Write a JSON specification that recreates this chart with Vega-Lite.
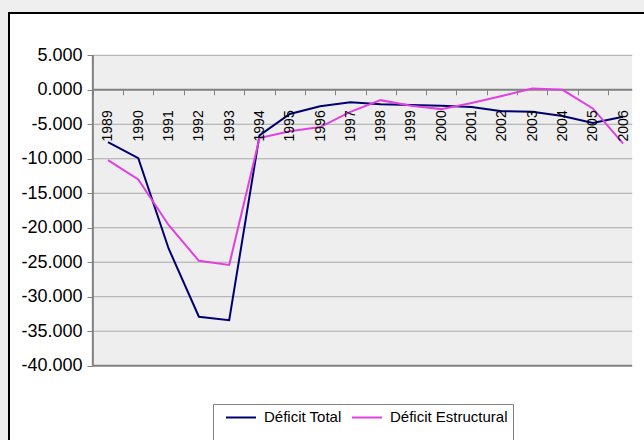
{
  "$schema": "https://vega.github.io/schema/vega-lite/v6.json",
  "width": 635,
  "height": 427,
  "autosize": {"type": "none"},
  "padding": {"left": 9, "top": 13, "right": 0, "bottom": 0},
  "background": "#efefef",
  "config": {
    "view": {"fill": "#ffffff", "stroke": "#000000", "strokeWidth": 2, "strokeDash": [635, 1062, 427]},
    "locale": {"number": {"decimal": ".", "thousands": ",", "grouping": [3], "currency": ["", ""], "minus": "-"}},
    "font": "Liberation Sans",
    "axis": {"labelOverlap": false, "labelFlush": false}
  },
  "layer": [
    {
      "data": {"values": [{}]},
      "mark": {"type": "rect", "color": "#eeeeee"},
      "encoding": {
        "x": {"datum": 1988.5, "type": "quantitative", "title": null},
        "x2": {"datum": 2006.3},
        "y": {"datum": 5, "type": "quantitative", "title": null},
        "y2": {"datum": -40}
      }
    },
    {
      "data": {"values": [{"v": -35}, {"v": -30}, {"v": -25}, {"v": -20}, {"v": -15}, {"v": -10}, {"v": -5}, {"v": 5}]},
      "mark": {"type": "rule", "color": "#a8a8a8", "strokeWidth": 1},
      "encoding": {
        "y": {"field": "v", "type": "quantitative", "title": null},
        "x": {"datum": 1988.5, "type": "quantitative", "title": null},
        "x2": {"datum": 2006.3}
      }
    },
    {
      "data": {"values": [{"v": 0}, {"v": -40}]},
      "mark": {"type": "rule", "color": "#808080", "strokeWidth": 2},
      "encoding": {
        "y": {"field": "v", "type": "quantitative", "title": null},
        "x": {"datum": 1988.5, "type": "quantitative", "title": null},
        "x2": {"datum": 2006.3}
      }
    },
    {
      "data": {"values": [{}]},
      "mark": {"type": "rule", "color": "#808080", "strokeWidth": 2},
      "encoding": {
        "x": {"datum": 1988.5, "type": "quantitative", "title": null},
        "y": {"datum": 5, "type": "quantitative", "title": null},
        "y2": {"datum": -40}
      }
    },
    {
      "data": {"values": [
        {"year": 1989, "serie": "Déficit Total", "value": -7.6},
        {"year": 1990, "serie": "Déficit Total", "value": -9.9},
        {"year": 1991, "serie": "Déficit Total", "value": -23.0},
        {"year": 1992, "serie": "Déficit Total", "value": -32.9},
        {"year": 1993, "serie": "Déficit Total", "value": -33.4},
        {"year": 1994, "serie": "Déficit Total", "value": -6.6},
        {"year": 1995, "serie": "Déficit Total", "value": -3.5},
        {"year": 1996, "serie": "Déficit Total", "value": -2.4},
        {"year": 1997, "serie": "Déficit Total", "value": -1.8},
        {"year": 1998, "serie": "Déficit Total", "value": -2.1},
        {"year": 1999, "serie": "Déficit Total", "value": -2.2},
        {"year": 2000, "serie": "Déficit Total", "value": -2.3},
        {"year": 2001, "serie": "Déficit Total", "value": -2.5},
        {"year": 2002, "serie": "Déficit Total", "value": -3.1},
        {"year": 2003, "serie": "Déficit Total", "value": -3.2},
        {"year": 2004, "serie": "Déficit Total", "value": -3.8},
        {"year": 2005, "serie": "Déficit Total", "value": -4.8},
        {"year": 2006, "serie": "Déficit Total", "value": -3.9},
        {"year": 1989, "serie": "Déficit Estructural", "value": -10.2},
        {"year": 1990, "serie": "Déficit Estructural", "value": -13.0},
        {"year": 1991, "serie": "Déficit Estructural", "value": -19.6},
        {"year": 1992, "serie": "Déficit Estructural", "value": -24.8},
        {"year": 1993, "serie": "Déficit Estructural", "value": -25.4},
        {"year": 1994, "serie": "Déficit Estructural", "value": -7.0},
        {"year": 1995, "serie": "Déficit Estructural", "value": -6.0},
        {"year": 1996, "serie": "Déficit Estructural", "value": -5.4},
        {"year": 1997, "serie": "Déficit Estructural", "value": -3.2},
        {"year": 1998, "serie": "Déficit Estructural", "value": -1.5},
        {"year": 1999, "serie": "Déficit Estructural", "value": -2.3},
        {"year": 2000, "serie": "Déficit Estructural", "value": -2.8},
        {"year": 2001, "serie": "Déficit Estructural", "value": -1.9},
        {"year": 2002, "serie": "Déficit Estructural", "value": -0.9},
        {"year": 2003, "serie": "Déficit Estructural", "value": 0.2},
        {"year": 2004, "serie": "Déficit Estructural", "value": 0.0},
        {"year": 2005, "serie": "Déficit Estructural", "value": -2.7},
        {"year": 2006, "serie": "Déficit Estructural", "value": -7.8}
      ]},
      "mark": {"type": "line", "strokeWidth": 2},
      "encoding": {
        "x": {
          "field": "year", "type": "quantitative", "title": null,
          "scale": {"domain": [1985.733, 2006.69], "nice": false, "zero": false},
          "axis": {
            "values": [1989, 1990, 1991, 1992, 1993, 1994, 1995, 1996, 1997, 1998, 1999, 2000, 2001, 2002, 2003, 2004, 2005, 2006],
            "tickCount": 40,
            "format": "d", "orient": "bottom", "offset": -350.2, "domain": false, "grid": false,
            "tickSize": 5, "tickColor": "#808080", "tickWidth": 1, "tickOffset": -15.15, "labelOffset": 15.15,
            "labelAngle": -90, "labelAlign": "right", "labelBaseline": "middle", "labelPadding": 15,
            "labelFontSize": 14, "labelColor": "#000000", "labelFlush": false, "labelOverlap": false, "zindex": 1
          }
        },
        "y": {
          "field": "value", "type": "quantitative", "title": null,
          "scale": {"domain": [-50.77, 11.134], "nice": false, "zero": false},
          "axis": {
            "values": [-40, -35, -30, -25, -20, -15, -10, -5, 0, 5],
            "tickCount": 20,
            "format": ".3f", "orient": "left", "offset": -84, "domain": false, "grid": false,
            "tickSize": 6, "tickColor": "#808080", "labelFontSize": 18, "labelPadding": 5,
            "labelColor": "#000000", "labelFlush": false, "labelOverlap": false, "zindex": 1
          }
        },
        "color": {
          "field": "serie", "type": "nominal",
          "scale": {"domain": ["Déficit Total", "Déficit Estructural"], "range": ["#000070", "#e040e0"]},
          "legend": {
            "orient": "none", "legendX": 204, "legendY": 391, "direction": "horizontal", "title": null,
            "symbolType": "M-1,-0.5H1M0,1.4", "symbolSize": 900, "symbolStrokeWidth": 2, "labelFontSize": 15,
            "labelBaseline": "bottom",
            "labelColor": "#000000", "fillColor": "#ffffff", "strokeColor": "#808080", "padding": 5,
            "columnPadding": 2, "labelOffset": 7, "symbolOffset": 7
          }
        }
      }
    }
  ]
}
